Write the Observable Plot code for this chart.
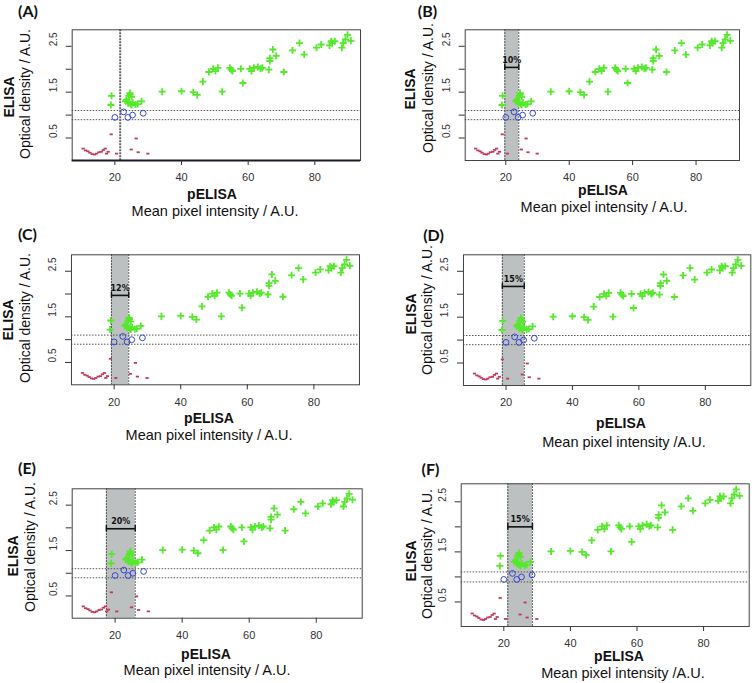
<!DOCTYPE html>
<html><head><meta charset="utf-8">
<script src="https://cdn.jsdelivr.net/npm/d3@7"></script>
<script src="https://cdn.jsdelivr.net/npm/@observablehq/plot@0.6"></script>
<style>
body{margin:0;background:#fff;}
#wrap{position:relative;width:756px;height:683px;overflow:hidden;font-family:"Liberation Sans",Arial,sans-serif;}
.t{position:absolute;white-space:nowrap;line-height:1;color:#111;transform:translate(-50%,-50%);}
.r{transform:translate(-50%,-50%) rotate(-90deg);}
.b{font-weight:bold;}
.pl{font-family:Lato,"Open Sans",sans-serif;font-weight:bold;font-size:16px;}
</style></head><body><div id="wrap"></div>
<script>
// ---- data (identical in all six panels) ----
const positiveX = [18.8,19.0,23.2,23.5,23.9,24.0,24.2,24.5,24.6,24.7,25.0,25.0,25.4,26.2,26.8,28.0,34.2,40.0,43.5,44.7,46.4,48.2,49.5,50.2,50.9,52.2,54.5,54.9,55.3,57.8,58.4,60.5,61.0,61.7,62.9,63.7,64.2,66.2,66.5,66.5,67.4,68.4,70.7,73.3,75.4,76.8,80.5,81.9,84.4,84.9,85.2,86.0,88.1,88.5,89.2,89.8,90.8];
const positiveY = [1.22,1.42,1.30,1.33,1.29,1.26,1.42,1.48,1.45,1.24,1.40,1.22,1.27,1.23,1.24,1.30,1.51,1.52,1.50,1.44,1.73,1.94,2.01,1.96,2.03,1.51,2.03,1.99,1.96,2.01,1.70,2.01,1.96,2.03,2.05,2.01,2.03,1.99,2.18,2.24,2.43,2.29,1.94,2.41,2.57,2.32,2.47,2.54,2.52,2.61,2.57,2.61,2.47,2.57,2.65,2.75,2.62];
const borderX = [20.0,22.6,23.9,25.3,28.5];
const borderY = [0.95,1.07,0.95,1.00,1.04];
const negativeX = [10.5,11.2,11.9,12.5,13.2,13.9,14.5,15.2,15.9,16.5,17.1,17.5,18.0,18.9,20.5,24.9,26.4,27.0,29.9];
const negativeY = [0.27,0.23,0.21,0.18,0.15,0.14,0.16,0.19,0.20,0.24,0.27,0.16,0.20,0.58,0.16,0.25,0.49,0.19,0.16];
const cutoffLines = [0.9, 1.1];
const cutoffA = 21.6;
const panelNames = ["(A)","(B)","(C)","(D)","(E)","(F)"];
const bandLo = [null, 19.7, 19.2, 18.9, 17.4, 21.2];
const bandHi = [null, 24.1, 24.4, 25.5, 26.0, 28.6];
const bandPct = [null, "10%", "12%", "15%", "20%", "15%"];
const bracketY = [null, 2.04, 1.97, 2.17, 1.98, 2.00];
const xTicks = [20, 40, 60, 80];
const yTicks = [0.5, 1, 1.5, 2, 2.5];
const yTickLabels = ["0.5", "", "1.5", "", "2.5"];
const xTitle1 = "pELISA";
const xTitle2 = ["Mean pixel intensity / A.U.","Mean pixel intensity / A.U.","Mean pixel intensity / A.U.","Mean pixel intensity /A.U.","Mean pixel intensity / A.U.","Mean pixel intensity /A.U."];
const yTitle1 = "ELISA";
const yTitle2 = "Optical density / A.U.";
const xDomain = [7.2, 93.7];
const yDomain = [0.01, 2.86];

// ---- layout (positions only) ----
// [left, top, width, height, mL, mR, mT, mB]
const layout = [
  [0,   0,   378, 225, 71.7, 18,  29.3, 65],
  [378, 0,   378, 225, 86.7, 17,  29.3, 65],
  [0,   225, 378, 225, 71,   19,  29.3, 65.7],
  [378, 225, 378, 225, 85,   5.7, 29.3, 65],
  [0,   450, 378, 233, 71.7, 16.3,38.3, 65.3],
  [378, 450, 378, 233, 82.7, 7.3, 33.3, 57]
];
// text centres: panel label, ELISA, Optical, pELISA, Mean
const textPos = [
  [[28,10.5],[9,97],[25,94],[212,194],[215,211]],
  [[427.5,10.5],[410,89],[428,88],[603,190],[604,207]],
  [[27.5,233.5],[8,320],[25,318],[209,418],[209,435]],
  [[433.5,234.5],[411,314],[427,310],[621,423],[624,442]],
  [[27,467.5],[13,556],[30,547],[206,654],[207,670]],
  [[430.5,468.5],[411,561],[427,554],[619,656],[623,673]]
];

const positives = positiveX.map((x,i)=>({x, y: positiveY[i]}));
const borders = borderX.map((x,i)=>({x, y: borderY[i]}));
const negatives = negativeX.map((x,i)=>({x, y: negativeY[i]}));
const dash = {draw(ctx, size){ const r = Math.sqrt(size/Math.PI); ctx.moveTo(-r,0); ctx.lineTo(r,0); }};

const wrap = document.getElementById("wrap");
function addText(txt, pos, cls, size){
  const d = document.createElement("div");
  d.className = "t " + cls;
  d.textContent = txt;
  d.style.left = pos[0] + "px"; d.style.top = pos[1] + "px";
  if (size) d.style.fontSize = size + "px";
  wrap.appendChild(d);
}

for (let i = 0; i < 6; i++) {
  const [left, top, w, h, mL, mR, mT, mB] = layout[i];
  const marks = [];
  const band = bandLo[i] != null ? [{lo: bandLo[i], hi: bandHi[i], pct: bandPct[i], by: bracketY[i]}] : [];
  if (band.length) {
    marks.push(Plot.rect(band, {x1: "lo", x2: "hi", fill: "#bcc0c0"}));
    marks.push(Plot.ruleX([bandLo[i], bandHi[i]], {stroke: "#333", strokeWidth: 1, strokeDasharray: "1.5,1.5"}));
  }
  marks.push(Plot.ruleY(cutoffLines, {stroke: "#555", strokeWidth: 1, strokeDasharray: "1.5,1.5"}));
  if (i === 0) {
    marks.push(Plot.ruleX([cutoffA], {stroke: "#666", strokeWidth: 2, strokeDasharray: "2,1"}));
  }
  marks.push(Plot.dot(negatives, {x: "x", y: "y", symbol: dash, r: 1.6, stroke: "#c43a5c", strokeWidth: 1.8, fill: "none"}));
  marks.push(Plot.dot(borders, {x: "x", y: "y", symbol: "circle", r: 2.9, stroke: "#3546d6", strokeWidth: 1, fill: "none"}));
  marks.push(Plot.dot(positives, {x: "x", y: "y", symbol: "plus", r: 2.4, stroke: "#55e82c", strokeWidth: 1.8}));
  if (band.length) {
    marks.push(Plot.ruleY(band, {y: "by", x1: "lo", x2: "hi", stroke: "#111", strokeWidth: 1.6}));
    marks.push(Plot.ruleX([band[0].lo, band[0].hi], {x: d => d, y1: band[0].by - 0.07, y2: band[0].by + 0.07, stroke: "#111", strokeWidth: 1.4}));
    marks.push(Plot.text(band, {x: d => (d.lo + d.hi) / 2, y: "by", text: "pct", dy: -7, fontSize: 8, fontWeight: "bold", fill: "#111", fontFamily: "DejaVu Sans"}));
  }
  marks.push(Plot.frame({stroke: "#444", strokeWidth: 1}));
  if (i === 0) marks.push(Plot.ruleY([yDomain[0]], {stroke: "#1a1a2a", strokeWidth: 2.2}));
  marks.push(Plot.axisX({ticks: xTicks, tickSize: 5, tickPadding: 8, fontSize: 11, label: null, stroke: "#333", fill: "#333"}));
  marks.push(Plot.axisY({ticks: yTicks, tickSize: 6, tickFormat: () => "", label: null, stroke: "#333"}));
  marks.push(Plot.text(yTicks, {y: d => d, text: (d, j) => yTickLabels[j], frameAnchor: "left", dx: -18.5, rotate: -90, fontSize: 10, fill: "#333"}));

  const svg = Plot.plot({
    width: w, height: h,
    marginLeft: mL, marginRight: mR, marginTop: mT, marginBottom: mB,
    x: {domain: xDomain},
    y: {domain: yDomain},
    style: {fontFamily: '"Liberation Sans", Arial, sans-serif', background: "transparent", color: "#333", overflow: "visible"},
    marks
  });
  svg.style.position = "absolute";
  svg.style.left = left + "px";
  svg.style.top = top + "px";
  wrap.appendChild(svg);

  const tp = textPos[i];
  addText(panelNames[i], tp[0], "pl");
  addText(yTitle1, tp[1], "r b", 14);
  addText(yTitle2, tp[2], "r", 14);
  addText(xTitle1, tp[3], "b", 14);
  addText(xTitle2[i], tp[4], "", 14.5);
}
</script></body></html>
